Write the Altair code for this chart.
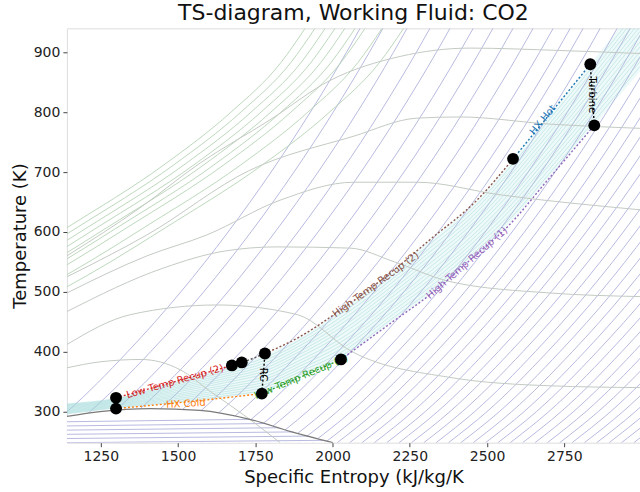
import altair as alt
import pandas as pd

# ---------------- cycle state points (entropy, temperature) ----------------
state_s = [1299, 1299, 1674, 1706, 1781, 1771, 2027, 2584, 2834, 2847]
state_T = [323, 305, 377, 382, 397, 330, 387, 722, 880, 778]

# ---------------- process paths (curved ones, ascending entropy) ----------------
proc_colors = ["#d62728", "#ff7f0e", "#2ca02c", "#8c564b", "#1f77b4", "#9467bd", "#555555"]
proc_s = [
    [1299, 1490, 1674],
    [1299, 1525, 1771],
    [1771, 1894, 2027],
    [1781, 1894, 2027, 2200, 2315, 2467, 2584],
    [2584, 2700, 2834],
    [2027, 2200, 2315, 2467, 2565, 2700, 2847],
    [1674, 1706, 1781],
]
proc_T = [
    [323, 350, 377],
    [305, 316, 330],
    [330, 357, 387],
    [397, 425, 470, 537, 587, 653, 722],
    [722, 795, 880],
    [387, 452, 495, 563, 608, 689, 778],
    [377, 382, 397],
]
# near-vertical steps (turbine, re-compressor, main compressor)
step_s = [[2834, 2847], [1771, 1781], [1299, 1299]]
step_T = [[880, 778], [330, 397], [305, 323]]

label_text = ["Low Temp Recup (2)", "HX Cold", "Low Temp Recup (1)", "High Temp Recup (2)",
              "HX Hot", "Turbine", "High Temp Recup (1)", "RC"]
label_color = ["#d62728", "#ff7f0e", "#2ca02c", "#8c564b", "#1f77b4", "#000000", "#9467bd", "#000000"]
label_s = [1490, 1525, 1898, 2140, 2681, 2841, 2435, 1776]
label_T = [350, 313, 358, 512, 787, 829, 548, 362]
label_angle = [344, 357, 337, 324, 309, 90, 319, 90]

# ---------------- band between the cycle's low and high pressure lines ----------------
band_s = [1140, 1299, 1500, 1674, 1781, 1894, 2027, 2200, 2315, 2467, 2584, 2700, 2834, 2926, 2995]
band_hi = [314, 323, 352, 377, 395, 425, 470, 537, 587, 653, 722, 795, 880, 940, 985]
band_lo = [295, 305, 314, 324, 332, 357, 387, 452, 495, 563, 620, 689, 770, 826, 868]
band_frac = [0.07, 0.14, 0.21, 0.28, 0.35, 0.42, 0.5, 0.57, 0.64, 0.71, 0.78, 0.85, 0.92]

# ---------------- saturation dome ----------------
dome_s = [1140, 1247, 1409, 1571, 1732, 1862, 2001]
dome_T = [292, 300, 305, 302, 287, 267, 248]

# ---------------- steep background lines (purple) ----------------
iso_T = [248, 300, 400, 500, 600, 700, 800, 900, 940]
iso_ds = [-125, 0, 196, 368, 521, 660, 787, 904, 948]
iso_anchor = [1141, 1215, 1293, 1367, 1432, 1507, 1571, 1636, 1701, 1766, 1821, 1863, 1918,
              1973, 2015, 2060, 2100, 2140, 2180, 2220, 2260, 2300, 2340, 2380, 2420, 2460,
              2500, 2540, 2580, 2620, 2660, 2700, 2740, 2780, 2820, 2860, 2900, 2940, 2980,
              3020, 3060, 3100, 3140]

# lines inside the dome
tail_s = [[1140, 1732], [1140, 1777], [1140, 1823], [1140, 1869], [1140, 1920], [1140, 1972]]
tail_T = [[283, 287], [276, 280], [269, 273], [262, 266], [255, 259], [248, 252]]

# ---------------- high-pressure lines (green, upper left) ----------------
green_T = [450, 500, 550, 607, 712, 800, 883, 940]
green_f = [-537, -348, -178, 0, 314, 531, 693, 771]
green_top = [1911, 1943, 1976, 2008, 2040, 2073, 2105, 2160, 2230]

# ---------------- humped gray curves ----------------
hump_s = [
    [1140, 1376, 1571, 1797, 1992, 2218, 2445, 2736, 2995],
    [1140, 1399, 1732, 2069, 2273, 2412, 2704, 2995],
    [1140, 1399, 1593, 1830, 2069, 2273, 2542, 2995],
    [1140, 1454, 1650, 1820, 2056, 2200, 2380, 2704, 2995],
    [1140, 1347, 1626, 1885, 2063, 2380, 2704, 2995],
    [1140, 1247, 1380, 1506, 1606, 1732, 1830],
]
hump_T = [
    [560, 640, 715, 787, 853, 893, 907, 903, 898],
    [525, 595, 703, 760, 790, 792, 780, 773],
    [498, 560, 595, 653, 683, 683, 662, 637],
    [467, 540, 568, 575, 573, 550, 517, 498, 492],
    [412, 462, 478, 462, 400, 357, 343, 340],
    [373, 383, 387, 370, 333, 287, 248],
]


def table(groups_s, groups_T, prefix, colors=None):
    rows = []
    for g, (ss, tt) in enumerate(zip(groups_s, groups_T)):
        for i, (s, t) in enumerate(zip(ss, tt)):
            r = {"s": s, "T": t, "g": f"{prefix}{g}", "o": i}
            if colors is not None:
                r["c"] = colors[g]
            rows.append(r)
    return pd.DataFrame(rows)


purple_df = table([[a + d for d in iso_ds] for a in iso_anchor], [iso_T] * len(iso_anchor), "p")
tail_df = table(tail_s, tail_T, "t")
green_df = table([[S - green_f[-1] + f for f in green_f] for S in green_top], [green_T] * len(green_top), "gr")
hump_df = table(hump_s, hump_T, "h")
band_lines_df = table([band_s] * len(band_frac),
                      [[lo + fr * (hi - lo) for lo, hi in zip(band_lo, band_hi)] for fr in band_frac], "b")
band_df = pd.DataFrame({"s": band_s, "hi": band_hi, "lo": band_lo})
dome_df = pd.DataFrame({"s": dome_s, "T": dome_T})
proc_df = table(proc_s, proc_T, "c", proc_colors)
step_df = table(step_s, step_T, "st", ["#000000"] * 3)
state_df = pd.DataFrame({"s": state_s, "T": state_T})
label_df = pd.DataFrame({"s": label_s, "T": label_T, "txt": label_text, "c": label_color, "a": label_angle})

FONT = "DejaVu Sans"
xs = alt.Scale(domain=[1140, 2995], nice=False, zero=False)
ys = alt.Scale(domain=[248, 940], nice=False, zero=False)
X = alt.X("s:Q", scale=xs, title="Specific Entropy (kJ/kg/K",
          axis=alt.Axis(values=[1250, 1500, 1750, 2000, 2250, 2500, 2750], format="d", grid=False,
                        domain=False, tickSize=4, labelFontSize=14, titleFontSize=18, labelFont=FONT,
                        titleFont=FONT, titleFontWeight="normal", labelColor="#222", titleColor="#111",
                        tickColor="#444", labelPadding=3, titlePadding=5))
Y = alt.Y("T:Q", scale=ys, title="Temperature (K)",
          axis=alt.Axis(values=[300, 400, 500, 600, 700, 800, 900], format="d", grid=False,
                        domain=False, tickSize=4, labelFontSize=14, titleFontSize=18, labelFont=FONT,
                        titleFont=FONT, titleFontWeight="normal", labelColor="#222", titleColor="#111",
                        tickColor="#444", labelPadding=3, titlePadding=4))

purple = alt.Chart(purple_df).mark_line(clip=True, color="#b0b2dc", strokeWidth=0.9, interpolate="monotone").encode(
    x=X, y=Y, detail="g:N", order="o:Q")
mask = alt.Chart(dome_df).mark_area(clip=True, color="white", opacity=1, interpolate="monotone").encode(
    x=X, y=Y, y2=alt.datum(248))
band = alt.Chart(band_df).mark_area(clip=True, color="#cdeeee", opacity=0.35, interpolate="monotone").encode(
    x=X, y=alt.Y("hi:Q", scale=ys), y2="lo:Q")
band_lines = alt.Chart(band_lines_df).mark_line(clip=True, color="#a2dada", strokeWidth=0.6, opacity=0.8,
                                                interpolate="monotone").encode(x=X, y=Y, detail="g:N", order="o:Q")
tails = alt.Chart(tail_df).mark_line(clip=True, color="#b0b2dc", strokeWidth=0.9).encode(
    x=X, y=Y, detail="g:N", order="o:Q")
green = alt.Chart(green_df).mark_line(clip=True, color="#b6d4b6", strokeWidth=0.9, interpolate="monotone").encode(
    x=X, y=Y, detail="g:N", order="o:Q")
hump = alt.Chart(hump_df).mark_line(clip=True, color="#c3cac3", strokeWidth=1.0, interpolate="monotone").encode(
    x=X, y=Y, detail="g:N", order="o:Q")
dome = alt.Chart(dome_df).mark_line(clip=True, color="#7a7a7a", strokeWidth=1.2, interpolate="monotone").encode(
    x=X, y=Y)
proc = alt.Chart(proc_df).mark_line(clip=True, strokeWidth=1.4, strokeDash=[2, 2], interpolate="monotone").encode(
    x=X, y=Y, detail="g:N", order="o:Q", color=alt.Color("c:N", scale=None))
steps = alt.Chart(step_df).mark_line(clip=True, strokeWidth=1.4, strokeDash=[2, 2]).encode(
    x=X, y=Y, detail="g:N", order="o:Q", color=alt.Color("c:N", scale=None))
labels = alt.Chart(label_df).mark_text(font=FONT, fontSize=10, clip=True).encode(
    x=X, y=Y, text="txt:N", color=alt.Color("c:N", scale=None), angle=alt.Angle("a:Q", scale=None))
points = alt.Chart(state_df).mark_circle(size=140, color="black", opacity=1).encode(x=X, y=Y)

chart = alt.layer(band, purple, mask, band_lines, tails, green, hump, dome, proc, steps, labels, points).properties(
    width=574, height=415,
    title=alt.TitleParams("TS-diagram, Working Fluid: CO2", fontSize=22, font=FONT, fontWeight="normal",
                          anchor="middle", color="#111", offset=3),
    autosize=alt.AutoSizeParams(type="none"),
    padding={"left": 67, "top": 28, "right": 0, "bottom": 49},
).configure_view(stroke="#555", strokeWidth=1).configure(background="white")

chart.save("out.html", embed_options={"renderer": "svg", "actions": False})
